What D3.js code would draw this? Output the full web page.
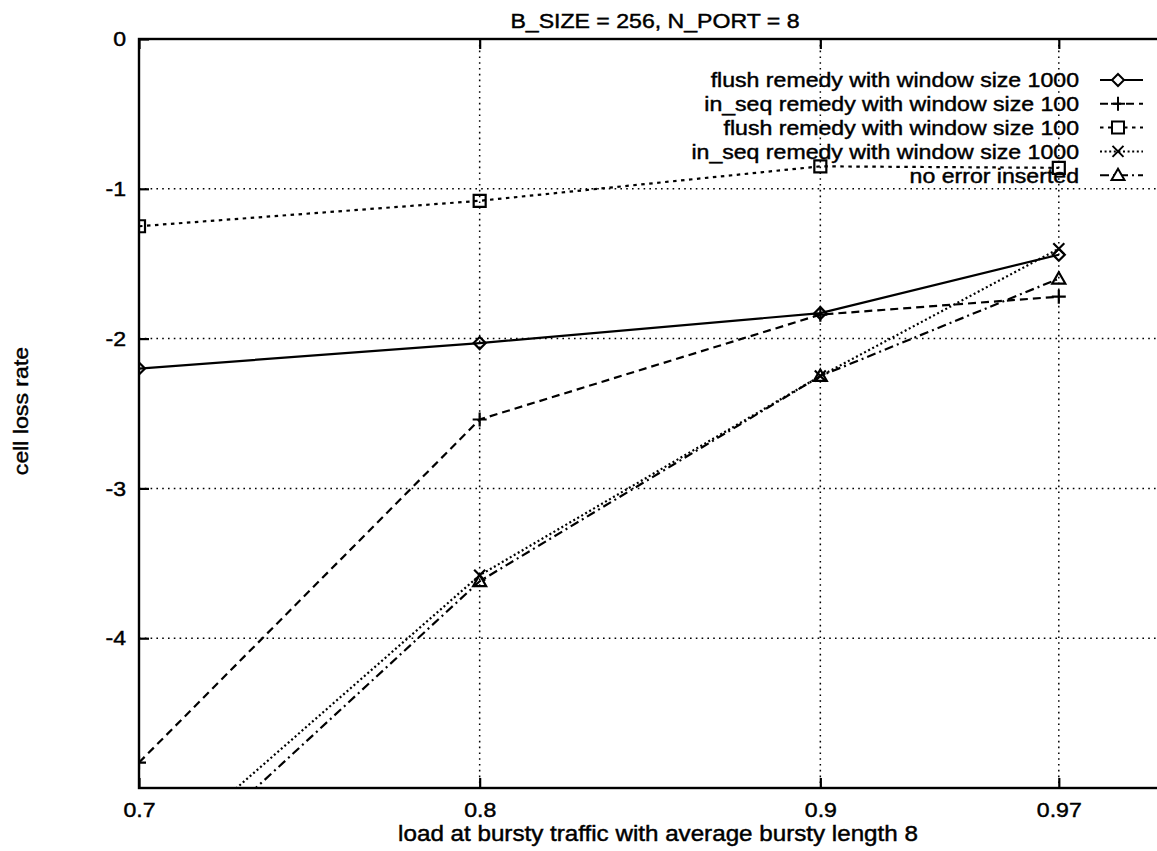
<!DOCTYPE html>
<html>
<head>
<meta charset="utf-8">
<script src="https://cdn.jsdelivr.net/npm/d3@7"></script>
<style>
  html, body { margin: 0; padding: 0; background: #fff; }
  svg { display: block; }
  text { font-family: "Liberation Sans", Arial, Helvetica, sans-serif; fill: #000; stroke: #000; stroke-width: 0.45px; }
</style>
</head>
<body>
<svg id="chart" width="1157" height="851"></svg>
<script>
// ---- data ----
const loads = [0.7, 0.8, 0.9, 0.97];
const flush1000 = [-2.20, -2.03, -1.83, -1.44];
const inseq100 = [-4.83, -2.54, -1.84, -1.72];
const flush100 = [-1.25, -1.08, -0.85, -0.86];
const inseq1000 = [-5.57, -3.58, -2.25, -1.40];
const noError = [-5.72, -3.62, -2.25, -1.60];

const seriesNames = [
  "flush remedy with window size 1000",
  "in_seq remedy with window size 100",
  "flush remedy with window size 100",
  "in_seq remedy with window size 1000",
  "no error inserted"
];
const xTickValues = [0.7, 0.8, 0.9, 0.97];
const xTickLabels = ["0.7", "0.8", "0.9", "0.97"];
const yTickValues = [0, -1, -2, -3, -4];
const yTickLabels = ["0", "-1", "-2", "-3", "-4"];

const titleText = "B_SIZE = 256, N_PORT = 8";
const xTitle = "load at bursty traffic with average bursty length 8";
const yTitle = "cell loss rate";

// ---- layout ----
const plotL = 139, plotR = 1161, plotT = 39, plotB = 788;
const FS = 21;        // font size
const SX = 1.1;       // horizontal text stretch

const svg = d3.select("#chart");

const x = d3.scaleLinear().domain([0.7, 1.0]).range([plotL, plotR]);
const y = d3.scaleLinear().domain([-5, 0]).range([plotB, plotT]);

// stretch a text element horizontally about its anchor point
function stretch(sel) {
  sel.each(function () {
    const t = d3.select(this);
    const ax = +(t.attr("x") || 0);
    t.attr("transform", `translate(${ax},0) scale(${SX},1) translate(${-ax},0)`);
  });
}

svg.append("defs").append("clipPath").attr("id", "plot-clip")
  .append("rect").attr("x", plotL).attr("y", plotT)
  .attr("width", plotR - plotL).attr("height", plotB - plotT);

// ---- grid ----
const grid = svg.append("g")
  .attr("stroke", "#000").attr("stroke-width", 1.5)
  .attr("stroke-dasharray", "1.6,4.2").attr("fill", "none");
yTickValues.filter(v => v > -5 && v < 0).forEach(v => {
  grid.append("line").attr("x1", plotL).attr("x2", plotR)
    .attr("y1", y(v)).attr("y2", y(v));
});
xTickValues.filter(v => v > 0.7).forEach(v => {
  grid.append("line").attr("y1", plotT).attr("y2", plotB)
    .attr("x1", x(v)).attr("x2", x(v));
});

// ---- axes ----
const yAxis = svg.append("g").attr("transform", `translate(${plotL},0)`)
  .call(d3.axisLeft(y).tickValues(yTickValues)
    .tickFormat((d, i) => yTickLabels[i]).tickSize(-10).tickPadding(13));
const xAxis = svg.append("g").attr("transform", `translate(0,${plotB})`)
  .call(d3.axisBottom(x).tickValues(xTickValues)
    .tickFormat((d, i) => xTickLabels[i]).tickSize(-10).tickPadding(14));
const xAxisTop = svg.append("g").attr("transform", `translate(0,${plotT})`)
  .call(d3.axisTop(x).tickValues(xTickValues).tickFormat("").tickSize(-10));

[yAxis, xAxis, xAxisTop].forEach(g => {
  g.select(".domain").remove();
  g.selectAll(".tick line").attr("stroke", "#000").attr("stroke-width", 2.2);
  g.selectAll(".tick text")
    .attr("font-size", FS)
    .attr("font-family", '"Liberation Sans", Arial, Helvetica, sans-serif')
    .attr("fill", "#000");
});
stretch(yAxis.selectAll(".tick text"));
stretch(xAxis.selectAll(".tick text"));

// border
svg.append("rect").attr("x", plotL).attr("y", plotT)
  .attr("width", plotR - plotL).attr("height", plotB - plotT)
  .attr("fill", "none").attr("stroke", "#000").attr("stroke-width", 2.4);

// ---- marker shapes ----
function markerPath(kind, cx, cy) {
  const p = d3.path();
  if (kind === "diamond") {
    const r = 6;
    p.moveTo(cx, cy - r); p.lineTo(cx + r, cy); p.lineTo(cx, cy + r); p.lineTo(cx - r, cy); p.closePath();
  } else if (kind === "plus") {
    const r = 7;
    p.moveTo(cx - r, cy); p.lineTo(cx + r, cy); p.moveTo(cx, cy - r); p.lineTo(cx, cy + r);
  } else if (kind === "square") {
    const r = 6;
    p.rect(cx - r, cy - r, 2 * r, 2 * r);
  } else if (kind === "cross") {
    const r = 5.5;
    p.moveTo(cx - r, cy - r); p.lineTo(cx + r, cy + r); p.moveTo(cx - r, cy + r); p.lineTo(cx + r, cy - r);
  } else if (kind === "triangle") {
    const r = 6.5;
    p.moveTo(cx, cy - r); p.lineTo(cx + r, cy + r * 0.75); p.lineTo(cx - r, cy + r * 0.75); p.closePath();
  }
  return p.toString();
}

const series = [
  { name: seriesNames[0], values: flush1000, dash: null, marker: "diamond" },
  { name: seriesNames[1], values: inseq100, dash: "8,5", marker: "plus" },
  { name: seriesNames[2], values: flush100, dash: "3.5,4.5", marker: "square" },
  { name: seriesNames[3], values: inseq1000, dash: "2,2.6", marker: "cross" },
  { name: seriesNames[4], values: noError, dash: "9,4,2,4", marker: "triangle" }
];

const line = d3.line().x(d => x(d[0])).y(d => y(d[1]));
const plot = svg.append("g").attr("clip-path", "url(#plot-clip)");

series.forEach(s => {
  const pts = loads.map((l, i) => [l, s.values[i]]);
  plot.append("path").datum(pts)
    .attr("d", line)
    .attr("fill", "none").attr("stroke", "#000").attr("stroke-width", 2.2)
    .attr("stroke-dasharray", s.dash);
  plot.selectAll(null).data(pts).enter().append("path")
    .attr("d", d => markerPath(s.marker, x(d[0]), y(d[1])))
    .attr("fill", "none").attr("stroke", "#000").attr("stroke-width", 2.2);
});

// ---- legend ----
const legTextX = 1079, legLineX1 = 1100, legLineX2 = 1143, legMarkX = 1118;
const legY0 = 80, legStep = 23.8;
series.forEach((s, i) => {
  const ly = legY0 + i * legStep;
  const t = svg.append("text").attr("x", legTextX).attr("y", ly).attr("dy", "0.35em")
    .attr("text-anchor", "end").attr("font-size", FS).text(s.name);
  stretch(t);
  svg.append("line").attr("x1", legLineX1).attr("x2", legLineX2)
    .attr("y1", ly).attr("y2", ly)
    .attr("stroke", "#000").attr("stroke-width", 2).attr("stroke-dasharray", s.dash);
  svg.append("path").attr("d", markerPath(s.marker, legMarkX, ly))
    .attr("fill", s.marker === "square" || s.marker === "diamond" || s.marker === "triangle" ? "#fff" : "none")
    .attr("stroke", "#000").attr("stroke-width", 2);
});

// ---- titles ----
const tt = svg.append("text").attr("x", 655).attr("y", 28)
  .attr("text-anchor", "middle").attr("font-size", FS).text(titleText);
stretch(tt);
const xt = svg.append("text").attr("x", 658).attr("y", 841)
  .attr("text-anchor", "middle").attr("font-size", 22).text(xTitle);
stretch(xt);
svg.append("text")
  .attr("transform", `translate(28,411) rotate(-90) scale(${SX},1)`)
  .attr("text-anchor", "middle").attr("font-size", FS).text(yTitle);
</script>
</body>
</html>
